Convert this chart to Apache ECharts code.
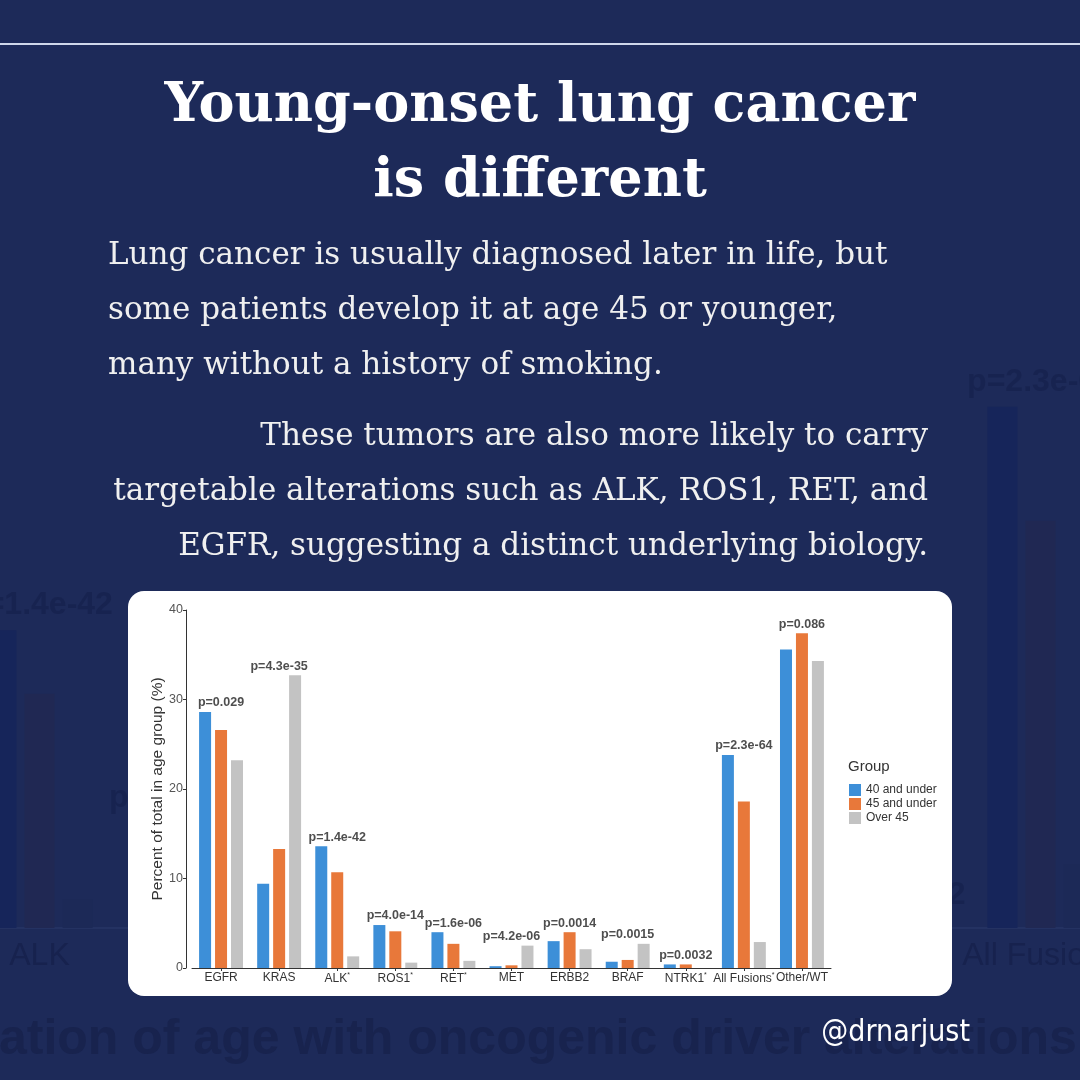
<!DOCTYPE html>
<html>
<head>
<meta charset="utf-8">
<script src="https://cdn.jsdelivr.net/npm/echarts@6/dist/echarts.min.js"></script>
<style>
html,body{margin:0;padding:0;background:#1d2a59;}
#c{width:1080px;height:1080px;}
</style>
</head>
<body>
<div id="c"></div>
<script>
// ---- data ----
const categories = ['EGFR','KRAS','ALK','ROS1','RET','MET','ERBB2','BRAF','NTRK1','All Fusions','Other/WT'];
const starred = [false,false,true,true,true,false,false,false,true,true,false];
const groupNames = ['40 and under','45 and under','Over 45'];
const under40 = [28.6, 9.4, 13.6, 4.8, 4.0, 0.2, 3.0, 0.7, 0.4, 23.8, 35.6];
const under45 = [26.6, 13.3, 10.7, 4.1, 2.7, 0.3, 4.0, 0.9, 0.4, 18.6, 37.4];
const over45  = [23.2, 32.7, 1.3, 0.6, 0.8, 2.5, 2.1, 2.7, 0.0, 2.9, 34.3];
const pValues = ['p=0.029','p=4.3e-35','p=1.4e-42','p=4.0e-14','p=1.6e-06','p=4.2e-06','p=0.0014','p=0.0015','p=0.0032','p=2.3e-64','p=0.086'];
const yTicks = [0,10,20,30,40];
const titleLines = ['Young-onset lung cancer','is different'];
const para1 = ['Lung cancer is usually diagnosed later in life, but','some patients develop it at age 45 or younger,','many without a history of smoking.'];
const para2 = ['These tumors are also more likely to carry','targetable alterations such as ALK, ROS1, RET, and','EGFR, suggesting a distinct underlying biology.'];
const bgTitle = 'Association of age with oncogenic driver alterations';
const handle = '@drnarjust';

const colors = ['#3d8fd8','#e8783a','#c3c3c3'];
const bgColors = ['#16255a','#202853','#1c2957'];
const series = [under40, under45, over45];
const maxVals = categories.map((c,i)=>Math.max(under40[i],under45[i],over45[i]));

const chart = echarts.init(document.getElementById('c'), null, {renderer:'canvas'});

const graphics = [
  {type:'rect', zlevel:0, z:0, shape:{x:0,y:43,width:1080,height:2}, style:{fill:'#cfd7ea'}},
  {type:'text', zlevel:0, z:0, x:-165, y:1040, style:{text:bgTitle, font:'bold 50px "Liberation Sans"', fill:'#18234e', textVerticalAlign:'middle'}},
  {type:'rect', zlevel:1, shape:{x:128,y:591,width:824,height:405,r:16}, style:{fill:'#ffffff'}},
  {type:'text', zlevel:2, x:848, y:767, style:{text:'Group', font:'15px "Liberation Sans"', fill:'#333', textVerticalAlign:'middle'}},
  {type:'text', zlevel:1, x:970, y:1033, style:{text:handle, font:'30px "DejaVu Sans Condensed"', fill:'#ffffff', textAlign:'right', textVerticalAlign:'middle'}}
];
titleLines.forEach((t,i)=>graphics.push({type:'text', zlevel:1, x:540, y:107+i*75, style:{text:t, font:'bold 54px "DejaVu Serif"', fill:'#ffffff', textAlign:'center', textVerticalAlign:'middle'}}));
para1.forEach((t,i)=>graphics.push({type:'text', zlevel:1, x:108, y:256+i*55, style:{text:t, font:'31px "DejaVu Serif"', fill:'#f0f0f0', textAlign:'left', textVerticalAlign:'middle'}}));
para2.forEach((t,i)=>graphics.push({type:'text', zlevel:1, x:928, y:437+i*55, style:{text:t, font:'31px "DejaVu Serif"', fill:'#f0f0f0', textAlign:'right', textVerticalAlign:'middle'}}));

const labelFmt = (v)=>{ const i = categories.indexOf(v); return starred[i] ? '{a|'+v+'}{s|*}' : '{a|'+v+'}'; };

const opt = {
  backgroundColor:'#1d2a59',
  animation:false,
  graphic: graphics,
  legend:{
    zlevel:2, data:groupNames, orient:'vertical', left:844, top:779, itemWidth:12, itemHeight:12, itemGap:2,
    icon:'rect', textStyle:{fontFamily:'Liberation Sans', fontSize:12, color:'#333'}
  },
  grid:[
    {left:-318, width:1573, top:52, height:876, outerBoundsMode:'none', containLabel:false},
    {left:192, width:639, top:610, height:358, outerBoundsMode:'none', containLabel:false}
  ],
  xAxis:[
    {gridIndex:0, type:'category', data:categories, zlevel:0,
     axisLine:{lineStyle:{color:'#243262', width:2}}, axisTick:{show:false},
     axisLabel:{interval:0, color:'#17224e', fontSize:32, fontFamily:'Liberation Sans', margin:12}},
    {gridIndex:1, type:'category', data:categories, zlevel:2,
     axisLine:{lineStyle:{color:'#333', width:1}}, axisTick:{show:true, alignWithLabel:true, length:3, lineStyle:{color:'#333'}},
     axisLabel:{interval:0, formatter:labelFmt, margin:4, hideOverlap:false, rich:{a:{fontFamily:'Liberation Sans', fontSize:12, color:'#333'}, s:{fontFamily:'Liberation Sans', fontSize:7, color:'#333', padding:[0,0,7,0]}}}}
  ],
  yAxis:[
    {gridIndex:0, type:'value', min:0, max:40, show:false, splitLine:{show:false}},
    {gridIndex:1, type:'value', min:0, max:40, interval:10, offset:6, zlevel:2,
     name:'Percent of total in age group (%)', nameLocation:'middle', nameGap:20, nameMoveOverlap:false,
     nameTextStyle:{fontFamily:'Liberation Sans', fontSize:15.5, color:'#333'},
     axisLine:{show:true, lineStyle:{color:'#333'}}, axisTick:{show:true, length:3, lineStyle:{color:'#333'}},
     axisLabel:{color:'#555', fontFamily:'Liberation Sans', fontSize:12.5, margin:3, formatter:(v)=>yTicks.includes(v)?String(v):''},
     splitLine:{show:false}}
  ],
  series:[]
};

series.forEach((d,k)=>{
  opt.series.push({name:'bg'+k, type:'bar', xAxisIndex:0, yAxisIndex:0, zlevel:0, data:d, barWidth:30, barGap:'27%', itemStyle:{color:bgColors[k]}, silent:true});
});
opt.series.push({name:'bgp', type:'scatter', xAxisIndex:0, yAxisIndex:0, zlevel:0, symbolSize:1, itemStyle:{color:'rgba(0,0,0,0)'},
  data:maxVals.map((v,i)=>[i,v]),
  label:{show:true, position:'top', distance:8, formatter:(p)=>pValues[p.dataIndex], fontFamily:'Liberation Sans', fontWeight:'bold', fontSize:32, color:'#17224e'}});
series.forEach((d,k)=>{
  opt.series.push({name:groupNames[k], type:'bar', xAxisIndex:1, yAxisIndex:1, zlevel:2, data:d, barWidth:12, barGap:'33%', itemStyle:{color:colors[k]}});
});
opt.series.push({name:'pvals', type:'scatter', xAxisIndex:1, yAxisIndex:1, zlevel:2, symbolSize:1, itemStyle:{color:'rgba(0,0,0,0)'},
  data:maxVals.map((v,i)=>[i,v]),
  label:{show:true, position:'top', distance:2, formatter:(p)=>pValues[p.dataIndex], fontFamily:'Liberation Sans', fontWeight:'bold', fontSize:12.5, color:'#222'}});

chart.setOption(opt);
</script>
</body>
</html>
